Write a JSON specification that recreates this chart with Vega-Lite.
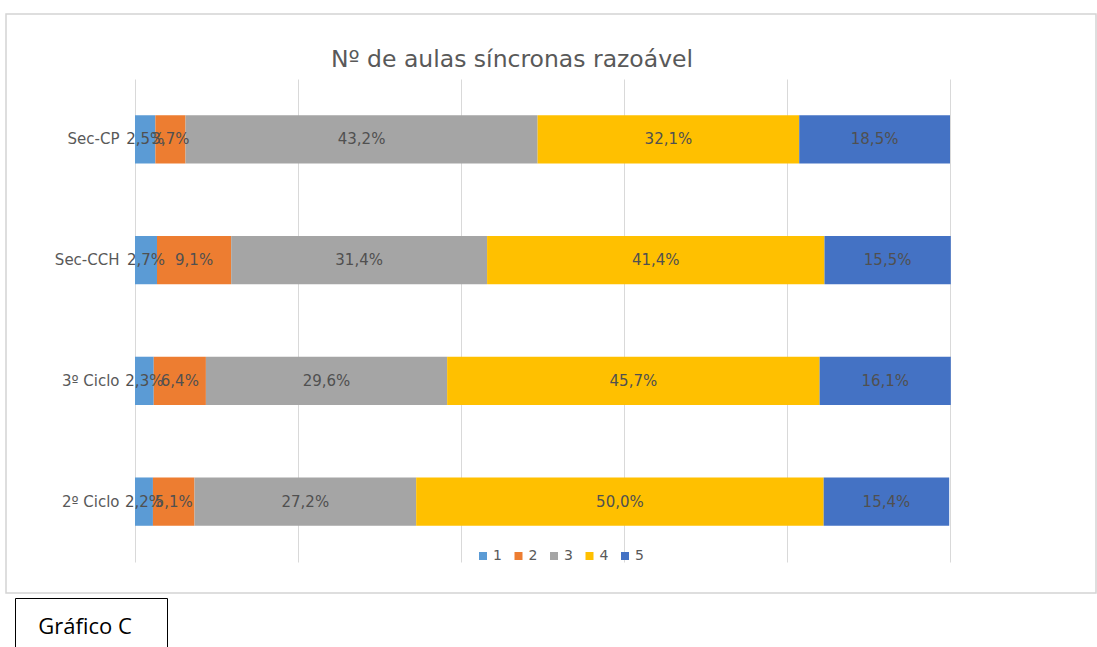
{
  "$schema": "https://vega.github.io/schema/vega-lite/v6.json",
  "padding": {"left": 5, "top": 13, "right": 0, "bottom": 0},
  "background": "white",
  "config": {
    "font": "DejaVu Sans",
    "locale": {"number": {"decimal": ",", "thousands": ".", "grouping": [3], "currency": ["", " €"]}},
    "concat": {"spacing": 3}
  },
  "vconcat": [
    {
      "width": 1090,
      "height": 579,
      "view": {"stroke": "#d4d4d4", "strokeWidth": 1.5},
      "title": {
        "text": "Nº de aulas síncronas razoável",
        "font": "DejaVu Sans",
        "fontSize": 23.5,
        "fontWeight": "normal",
        "color": "#595959",
        "anchor": "middle",
        "offset": -57,
        "dx": -39
      },
      "data": {
        "values": [
          {"nivel": "Sec-CP", "cat": "1", "v": 0.025},
          {"nivel": "Sec-CP", "cat": "2", "v": 0.037},
          {"nivel": "Sec-CP", "cat": "3", "v": 0.432},
          {"nivel": "Sec-CP", "cat": "4", "v": 0.321},
          {"nivel": "Sec-CP", "cat": "5", "v": 0.185},
          {"nivel": "Sec-CCH", "cat": "1", "v": 0.027},
          {"nivel": "Sec-CCH", "cat": "2", "v": 0.091},
          {"nivel": "Sec-CCH", "cat": "3", "v": 0.314},
          {"nivel": "Sec-CCH", "cat": "4", "v": 0.414},
          {"nivel": "Sec-CCH", "cat": "5", "v": 0.155},
          {"nivel": "3º Ciclo", "cat": "1", "v": 0.023},
          {"nivel": "3º Ciclo", "cat": "2", "v": 0.064},
          {"nivel": "3º Ciclo", "cat": "3", "v": 0.296},
          {"nivel": "3º Ciclo", "cat": "4", "v": 0.457},
          {"nivel": "3º Ciclo", "cat": "5", "v": 0.161},
          {"nivel": "2º Ciclo", "cat": "1", "v": 0.022},
          {"nivel": "2º Ciclo", "cat": "2", "v": 0.051},
          {"nivel": "2º Ciclo", "cat": "3", "v": 0.272},
          {"nivel": "2º Ciclo", "cat": "4", "v": 0.500},
          {"nivel": "2º Ciclo", "cat": "5", "v": 0.154}
        ]
      },
      "encoding": {
        "y": {
          "field": "nivel",
          "type": "nominal",
          "sort": ["Sec-CP", "Sec-CCH", "3º Ciclo", "2º Ciclo"],
          "scale": {"range": [65, 548], "paddingInner": 0.6, "paddingOuter": 0.3},
          "axis": {
            "title": null,
            "offset": -115,
            "labelPadding": 2,
            "ticks": false,
            "tickSize": 0,
            "domain": false,
            "grid": false,
            "minExtent": 0,
            "labelFont": "DejaVu Sans",
            "labelFontSize": 15,
            "labelColor": "#595959"
          }
        }
      },
      "layer": [
        {
          "mark": {"type": "bar"},
          "encoding": {
            "x": {
              "field": "v",
              "type": "quantitative",
              "stack": "zero",
              "scale": {"domain": [-0.15828, 1.17914], "nice": false, "zero": false},
              "axis": {
                "orient": "top",
                "title": null,
                "values": [0, 0.2, 0.4, 0.6, 0.8, 1],
                "labels": false,
                "ticks": false,
                "domain": false,
                "grid": true,
                "gridColor": "#d9d9d9",
                "gridWidth": 1,
                "minExtent": 0
              }
            },
            "color": {
              "field": "cat",
              "type": "nominal",
              "scale": {
                "domain": ["1", "2", "3", "4", "5"],
                "range": ["#5B9BD5", "#ED7D31", "#A5A5A5", "#FFC000", "#4472C4"]
              },
              "legend": {
                "orient": "none",
                "legendX": 470,
                "legendY": 535,
                "direction": "horizontal",
                "title": null,
                "symbolType": "square",
                "symbolSize": 64,
                "symbolStrokeWidth": 0,
                "labelFont": "DejaVu Sans",
                "labelFontSize": 14,
                "labelColor": "#595959",
                "labelOffset": 3,
                "columnPadding": 9.5,
                "padding": 0
              }
            },
            "order": {"field": "cat", "sort": "ascending"}
          }
        },
        {
          "mark": {"type": "text", "font": "DejaVu Sans", "fontSize": 15, "color": "#505050"},
          "encoding": {
            "x": {
              "field": "v",
              "type": "quantitative",
              "stack": "zero",
              "bandPosition": 0.5,
              "axis": {
                "orient": "top",
                "title": null,
                "values": [0, 0.2, 0.4, 0.6, 0.8, 1],
                "labels": false,
                "ticks": false,
                "domain": false,
                "grid": true,
                "gridColor": "#d9d9d9",
                "gridWidth": 1,
                "minExtent": 0
              }
            },
            "detail": {"field": "cat"},
            "order": {"field": "cat", "sort": "ascending"},
            "text": {"field": "v", "type": "quantitative", "format": ".1%"}
          }
        }
      ]
    },
    {
      "spacing": 7,
      "hconcat": [
        {
          "width": 1,
          "height": 51,
          "view": {"stroke": null},
          "data": {"values": [{"caption": ""}]},
          "mark": {"type": "text"},
          "encoding": {"text": {"field": "caption"}}
        },
        {
          "width": 152,
          "height": 51,
          "view": {"stroke": "black", "strokeWidth": 1},
          "data": {"values": [{"caption": "Gráfico C"}]},
          "mark": {"type": "text", "font": "Open Sans", "fontSize": 22, "color": "black", "dx": -6, "dy": 3},
          "encoding": {"text": {"field": "caption"}}
        }
      ]
    }
  ]
}
